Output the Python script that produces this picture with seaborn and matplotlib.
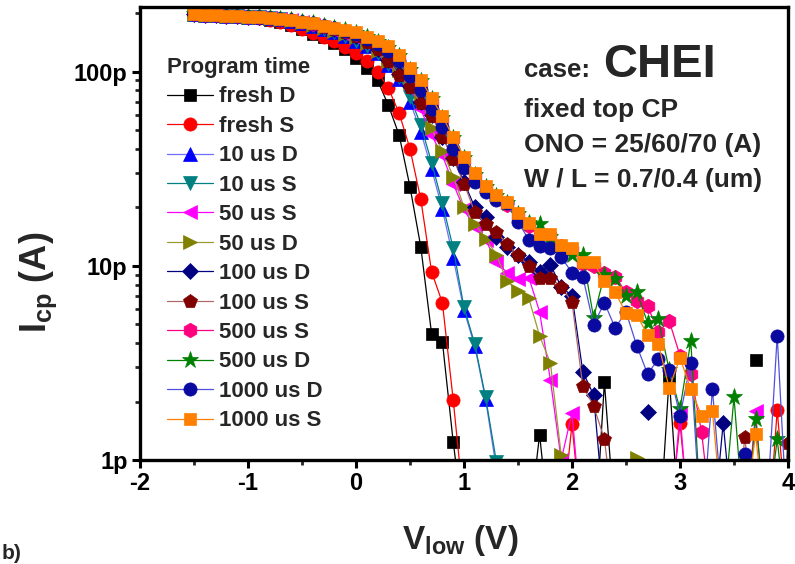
import numpy as np
import pandas as pd
import matplotlib
matplotlib.use("Agg")
import matplotlib.pyplot as plt
from matplotlib.ticker import LogLocator, NullFormatter, MultipleLocator
import seaborn as sns

sns.set_style("ticks")
plt.rcParams['font.family'] = ['Liberation Sans', 'DejaVu Sans']
plt.rcParams['font.weight'] = 'bold'
plt.rcParams['mathtext.fontset'] = 'custom'
plt.rcParams['mathtext.bf'] = 'Liberation Sans:bold'
plt.rcParams['mathtext.rm'] = 'Liberation Sans:bold'

nan = np.nan
# V_low grid (V)
V_low = np.round(np.arange(-1.5, 4.01, 0.1), 1)

# Icp values in pA, one list per series (56 points, -1.5 ... 4.0 V)
fresh_D = [197, 196, 195, 194, 193, 190, 188, 185, 180, 173,
           165, 157, 150, 141, 131, 118, 104, 90, 67, 47,
           25.5, 12.5, 4.46, 4.06, 1.24, 0.45, 0.35, 0.3, 0.35, 0.4,
           0.35, 0.45, 1.35, 0.4, 0.3, 0.35, 0.4, 0.3, 2.52, 0.45,
           0.35, 0.3, 0.4, 0.35, 2.68, 0.4, 0.3, 0.35, 0.3, 0.4,
           0.35, nan, 3.28, nan, 0.35, 0.3]
fresh_S = [197, 196, 195, 194, 193, 190, 188, 185, 180, 174,
           166, 158, 151, 143, 134, 125, 114, 100, 82, 61,
           40, 22, 9.3, 6.45, 2.04, 0.57, 0.9, 0.35, 0.3, 0.4,
           0.35, 0.3, 0.4, 0.35, 0.45, 1.53, 0.4, 0.3, 0.35, 0.4,
           0.3, 0.35, 0.4, 0.3, 0.45, 1.55, 0.4, 0.3, 0.35, 0.4,
           0.3, 0.35, 0.4, 0.3, 1.81, 0.4]
us10_D = [197, 196, 195, 194, 193, 191, 190, 188, 186, 183,
          177, 172, 166, 160, 152, 144, 135, 124, 108, 92,
          70, 49, 31.5, 19.5, 11.0, 5.9, 3.85, 2.05, 0.9, 0.4,
          0.35, 0.3, 0.4, 0.35, 0.3, 0.4, 0.35, 0.3, 0.4, 0.35,
          0.3, 0.4, 0.35, 0.3, 0.4, 0.35, 0.3, 0.4, 0.35, 0.3,
          0.4, 0.35, 0.3, 0.4, 0.35, 0.3]
us10_S = [197, 196, 195, 194, 193, 191, 190, 188, 186, 183,
          177, 172, 166, 160, 152, 144, 135, 125, 109, 94,
          74, 53, 34, 21, 12.3, 6.1, 3.95, 2.1, 0.98, 0.4,
          0.3, 0.35, 0.4, 0.3, 0.35, 0.4, 0.3, 0.35, 0.4, 0.3,
          0.35, 0.4, 0.3, 0.35, 0.4, 0.3, 0.35, 0.4, 0.3, 0.35,
          0.4, 0.3, 0.35, 0.4, 0.3, 0.35]
us50_S = [197, 196, 195, 194, 193, 191, 190, 188, 186, 184,
          180, 173, 167, 161, 154, 148, 138, 126, 111, 98,
          83, 64, 47, 37, 26.5, 19.5, 15.8, 13.6, 10.5, 9.2,
          8.6, 8.7, 5.8, 2.58, 1.0, 1.75, 0.4, 0.35, 0.3, 0.4,
          0.35, 0.3, 0.4, 0.35, 0.4, 1.75, 0.35, 0.3, 0.4, 0.35,
          0.3, 0.4, 1.79, 0.35, 0.3, 0.4]
us50_D = [197, 196, 195, 194, 193, 191, 190, 188, 186, 184,
          180, 174, 168, 162, 156, 150, 140, 128, 114, 102,
          88, 74, 51, 39, 28.8, 20.1, 16.5, 13.8, 11.4, 8.3,
          7.45, 6.8, 4.36, 3.16, 1.06, 0.4, 0.35, 0.3, 0.4, 0.35,
          0.4, 1.02, 0.35, 0.3, 0.4, 0.35, 0.3, 0.4, 0.35, 0.3,
          0.4, 0.35, 0.3, 0.4, 0.35, 0.3]
us100_D = [197, 196, 195, 194, 193, 191, 190, 188, 186, 184,
           181, 176, 171, 166, 160, 153, 143, 131, 115, 97,
           84, 70, 60, 46, 36, 27, 20, 17.9, 14.1, 12.5,
           11.4, 10.5, 9.3, 10.1, 7.8, 7.0, 2.85, 2.16, 0.5, 0.4,
           0.5, nan, 1.77, nan, 0.4, 0.5, 0.4, 0.5, 0.4, 1.55,
           0.4, 0.35, 0.4, 0.3, 0.35, 0.4]
us100_S = [197, 196, 195, 194, 193, 191, 190, 188, 186, 184,
           181, 175, 170, 165, 159, 152, 142, 130, 114, 96,
           83, 69, 59, 46, 35.5, 26.5, 18.9, 16.4, 15.0, 12.9,
           11.3, 10.0, 8.7, 8.7, 7.8, 6.5, 2.4, 1.9, 1.28, 0.45,
           0.4, 0.35, 0.3, 0.4, 0.35, 0.3, 0.4, 0.35, 0.3, 0.4,
           0.35, 1.31, 0.4, 0.35, 0.3, 1.22]
us500_S = [197, 196, 195, 194, 193, 191, 190, 188, 186, 184,
           181, 176, 171, 167, 162, 157, 149, 140, 131, 118,
           100, 87, 70, 57, 45, 35, 29, 25, 22.5, 20.5,
           18, 16, 14.5, 14.2, 12.6, 12.0, 10.2, 10.0, 9.2, 8.8,
           7.3, 6.6, 6.2, 4.57, 5.2, 3.45, 2.78, 1.39, 0.45, 0.4,
           0.35, 0.4, 0.3, 0.35, 0.4, 0.3]
us500_D = [197, 196, 195, 194, 193, 191, 190, 188, 186, 184,
           181, 177, 172, 168, 163, 158, 150, 142, 133, 120,
           102, 89, 72, 58, 45.5, 36, 29.5, 25.5, 23, 21,
           18.5, 16.6, 16.5, 14.1, 11.7, 11.4, 11.3, 5.4, 9.0, 8.6,
           7.0, 7.3, 5.1, 5.3, 2.9, 1.83, 4.1, 0.45, 0.4, 0.5,
           2.11, 0.4, 1.63, 0.45, 1.28, 0.4]
us1000_D = [197, 196, 195, 194, 193, 191, 190, 188, 186, 184,
            181, 177, 172, 167, 162, 156, 147, 138, 128, 113,
            95, 80, 64, 52, 40, 32, 27, 24, 21.8, 21,
            16.9, 13.6, 12.7, 12.4, 11.1, 9.2, 8.8, 4.97, 6.45, 4.79,
            5.79, 3.87, 2.77, 3.32, 2.91, 1.69, 3.16, 0.4, 2.32, 0.5,
            0.4, 1.07, 0.4, 0.5, 4.36, 0.4]
us1000_S = [197, 196, 195, 194, 193, 191, 190, 188, 186, 184,
            181, 177, 172, 168, 164, 159, 151, 143, 135, 122,
            104, 91, 73, 59, 46, 36.5, 30, 25.8, 23.2, 21.4,
            18.8, 16.7, 14.6, 14.6, 12.8, 12.4, 10.4, 10.4, 8.3, 7.3,
            5.7, 5.6, 4.4, 3.96, 2.35, 3.36, 2.32, 1.69, 1.79, 0.45,
            0.4, 0.5, 1.36, 0.4, 0.45, 0.4]

series_names = ["fresh D", "fresh S", "10 us D", "10 us S", "50 us S", "50 us D",
                "100 us D", "100 us S", "500 us S", "500 us D", "1000 us D", "1000 us S"]
series_values = [fresh_D, fresh_S, us10_D, us10_S, us50_S, us50_D,
                 us100_D, us100_S, us500_S, us500_D, us1000_D, us1000_S]

# style: (marker, marker colour, line colour, marker size)
styles = [
    ("s", "#000000", "#000000", 8.5),
    ("o", "#FF0000", "#FF0000", 9.5),
    ("^", "#0000FF", "#6F6FFF", 10.5),
    ("v", "#008080", "#008080", 10.5),
    ("<", "#FF00FF", "#FF00FF", 10.5),
    (">", "#808000", "#9A9A30", 10.5),
    ("D", "#000080", "#000080", 8),
    ("p", "#800000", "#B06868", 10.5),
    ("h", "#FF0080", "#FF0080", 10.5),
    ("*", "#008000", "#008000", 12.5),
    ("o", "#0A0AA0", "#5050E0", 9.5),
    ("s", "#FF8000", "#FF8000", 8.5),
]

fig = plt.figure(figsize=(7.95, 5.64), dpi=100)
ax = fig.add_axes([140 / 795, 1 - 460 / 564, 648 / 795, 453 / 564])
ax.set_yscale("log")

for name, vals, (mk, mc, lc, ms) in zip(series_names, series_values, styles):
    df = pd.DataFrame({"V": V_low, "I": vals})
    df["seg"] = df["I"].isna().cumsum()
    df = df.dropna()
    sns.lineplot(data=df, x="V", y="I", units="seg", estimator=None, ax=ax,
                 color=lc, lw=0.9, marker=mk, markersize=ms,
                 markerfacecolor=mc, markeredgecolor=mc, markeredgewidth=0.5,
                 label=name, legend=False, sort=True)

ax.set_xlim(-2, 4)
ax.set_ylim(1, 215)
xt = [-2, -1, 0, 1, 2, 3, 4]
ax.set_xticks(xt)
ax.set_xticklabels(["-2", "-1", "0", "1", "2", "3", "4"])
ax.xaxis.set_minor_locator(MultipleLocator(0.5))
ax.set_yticks([1, 10, 100])
ax.set_yticklabels(["1p", "10p", "100p"])
ax.yaxis.set_minor_locator(LogLocator(base=10, subs=np.arange(2, 10)))
ax.yaxis.set_minor_formatter(NullFormatter())
ax.set_xlabel("")
ax.set_ylabel("")

for sp in ax.spines.values():
    sp.set_visible(True)
    sp.set_linewidth(2.4)
    sp.set_color("black")
ax.tick_params(which="major", direction="out", length=6, width=2.2,
               labelsize=17, pad=3, colors="black")
ax.tick_params(which="minor", direction="out", length=3.5, width=2.0)
for lab in ax.get_xticklabels() + ax.get_yticklabels():
    lab.set_fontweight("bold")

# legend (deduplicate per-segment lines)
h, l = ax.get_legend_handles_labels()
seen = {}
for hh, ll in zip(h, l):
    if ll not in seen:
        seen[ll] = hh
leg = ax.legend(list(seen.values()), list(seen.keys()), title="Program time",
                loc="upper left", bbox_to_anchor=((167 - 140) / 648, (460 - 57) / 453),
                frameon=False, fontsize=16, title_fontsize=16,
                handlelength=2.05, handletextpad=0.3, labelspacing=0.38,
                borderpad=0, borderaxespad=0, alignment="left", numpoints=1)
leg.get_title().set_fontweight("bold")
for t in leg.get_texts():
    t.set_fontweight("bold")

# annotations
fig.text(524 / 795, 1 - 77 / 564, "case:", fontsize=18.5, fontweight="bold", va="baseline")
fig.text(603 / 795, 1 - 77 / 564, "CHEI", fontsize=34, fontweight="bold", va="baseline")
fig.text(524 / 795, 1 - 117 / 564, "fixed top CP", fontsize=19, fontweight="bold", va="baseline")
fig.text(524 / 795, 1 - 152 / 564, "ONO = 25/60/70 (A)", fontsize=19, fontweight="bold", va="baseline")
fig.text(524 / 795, 1 - 187 / 564, "W / L = 0.7/0.4 (um)", fontsize=19, fontweight="bold", va="baseline")

fig.text(38 / 795, 1 - 282 / 564, r"$\mathbf{I}_{\mathbf{cp}}$ (A)", fontsize=26,
         fontweight="bold", rotation=90, ha="center", va="center")
fig.text(460 / 795, 1 - 549 / 564, r"$\mathbf{V}_{\mathbf{low}}$ (V)", fontsize=24,
         fontweight="bold", ha="center", va="baseline")
fig.text(0.002, 0.002, "b)", fontsize=15, fontweight="bold", ha="left", va="bottom")

fig.savefig("out.png", dpi=100)
